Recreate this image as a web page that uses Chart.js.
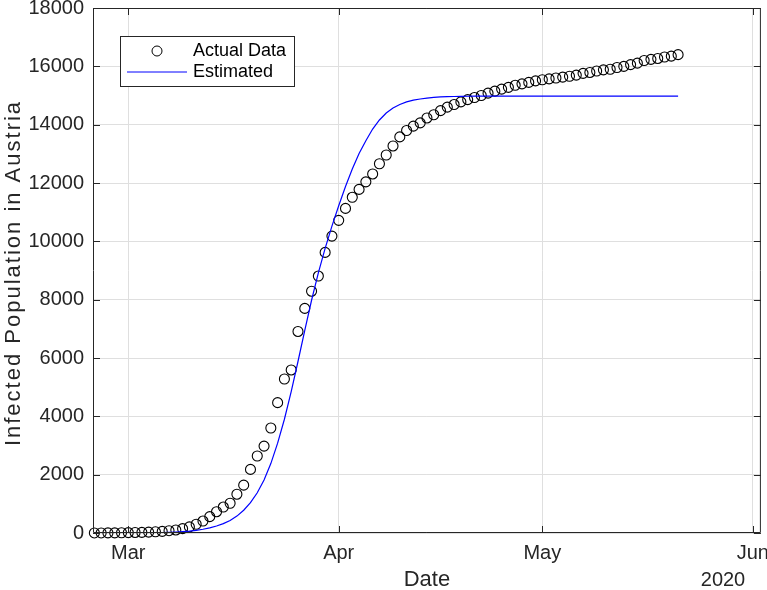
<!DOCTYPE html>
<html>
<head>
<meta charset="utf-8">
<script src="https://cdn.jsdelivr.net/npm/chart.js@4.4.1/dist/chart.umd.min.js"></script>
<style>
  html, body { margin: 0; padding: 0; background: #fff; }
  #wrap { width: 767px; height: 590px; }
</style>
</head>
<body>
<div id="wrap"><canvas id="chart" width="767" height="590"></canvas></div>
<script>
// days counted from 1 Mar 2020 (Feb 25 = -5 ... May 21 = 81)
const days = [-5, -4, -3, -2, -1, 0, 1, 2, 3, 4, 5, 6, 7, 8, 9, 10, 11, 12, 13, 14,
  15, 16, 17, 18, 19, 20, 21, 22, 23, 24, 25, 26, 27, 28, 29, 30, 31, 32, 33, 34,
  35, 36, 37, 38, 39, 40, 41, 42, 43, 44, 45, 46, 47, 48, 49, 50, 51, 52, 53, 54,
  55, 56, 57, 58, 59, 60, 61, 62, 63, 64, 65, 66, 67, 68, 69, 70, 71, 72, 73, 74,
  75, 76, 77, 78, 79, 80, 81];

const actual = [2, 2, 3, 3, 9, 14, 18, 21, 29, 41, 55, 79, 104, 150, 210, 300, 410, 560, 730, 890,
  1020, 1330, 1640, 2180, 2640, 2980, 3600, 4470, 5280, 5590, 6910, 7700, 8290, 8810, 9620, 10180, 10720, 11130, 11510, 11780,
  12040, 12310, 12660, 12960, 13270, 13580, 13800, 13950, 14060, 14230, 14340, 14480, 14600, 14690, 14780, 14860, 14930, 15000, 15080, 15150,
  15220, 15280, 15350, 15400, 15450, 15500, 15540, 15570, 15600, 15630, 15660, 15700, 15760, 15790, 15840, 15880, 15900, 15960, 16000, 16060,
  16110, 16200, 16240, 16270, 16320, 16350, 16400];

const estimated = [0, 0, 1, 1, 2, 3, 4, 6, 8, 11, 16, 23, 33, 47, 66, 92, 128, 175, 240, 320,
  430, 580, 780, 1040, 1380, 1820, 2380, 3080, 3900, 4850, 5880, 6950, 7980, 8920, 9760, 10520, 11220, 11880, 12480, 13010,
  13450, 13850, 14160, 14400, 14570, 14690, 14780, 14840, 14880, 14910, 14935, 14950, 14960, 14966, 14970, 14974, 14976, 14977, 14978, 14978,
  14979, 14979, 14979, 14980, 14980, 14980, 14980, 14980, 14980, 14980, 14980, 14980, 14980, 14980, 14980, 14980, 14980, 14980, 14980, 14980,
  14980, 14980, 14980, 14980, 14980, 14980, 14980];

const tickDays = [0, 31, 61, 92];
const tickLabels = ['Mar', 'Apr', 'May', 'Jun'];
const yearLabel = '2020';
const seriesNames = ['Actual Data', 'Estimated'];

const FONT = '"Liberation Sans", Arial, Helvetica, sans-serif';
const INK = '#262626';

// matlab style box, inward ticks, labels and legend
const matlabAxes = {
  id: 'matlabAxes',
  afterDraw(chart) {
    const { ctx, chartArea: a, scales } = chart;
    const tl = 7;
    ctx.save();
    ctx.strokeStyle = INK;
    ctx.lineWidth = 1;
    ctx.beginPath();
    ctx.rect(a.left + 0.5, a.top + 0.5, a.right - a.left - 1, a.bottom - a.top - 1);
    scales.x.ticks.forEach(t => {
      const px = Math.round(scales.x.getPixelForValue(t.value)) + 0.5;
      ctx.moveTo(px, a.bottom); ctx.lineTo(px, a.bottom - tl);
      ctx.moveTo(px, a.top); ctx.lineTo(px, a.top + tl);
    });
    scales.y.ticks.forEach(t => {
      const py = Math.round(scales.y.getPixelForValue(t.value)) + 0.5;
      ctx.moveTo(a.left, py); ctx.lineTo(a.left + tl, py);
      ctx.moveTo(a.right, py); ctx.lineTo(a.right - tl, py);
    });
    ctx.stroke();

    // axis titles
    ctx.fillStyle = INK;
    ctx.font = '22px ' + FONT;
    ctx.textAlign = 'center';
    ctx.textBaseline = 'middle';
    ctx.fillText('Date', (a.left + a.right) / 2, 580);
    ctx.font = '20px ' + FONT;
    ctx.fillText(yearLabel, 723, 580);
    ctx.save();
    ctx.translate(14, 273);
    ctx.rotate(-Math.PI / 2);
    ctx.font = '22px ' + FONT;
    ctx.letterSpacing = '2px';
    ctx.fillText('Infected Population in Austria', 0, 0);
    ctx.restore();

    // legend
    ctx.fillStyle = '#fff';
    ctx.fillRect(121, 36, 174, 50);
    ctx.strokeStyle = INK;
    ctx.strokeRect(120.5, 36.5, 174, 50);
    ctx.beginPath();
    ctx.arc(157, 51, 5, 0, Math.PI * 2);
    ctx.strokeStyle = '#000';
    ctx.stroke();
    ctx.beginPath();
    ctx.moveTo(127, 72); ctx.lineTo(187, 72);
    ctx.strokeStyle = '#0000ff';
    ctx.stroke();
    ctx.fillStyle = '#000';
    ctx.font = '18px ' + FONT;
    ctx.textAlign = 'left';
    ctx.fillText(seriesNames[0], 193, 51);
    ctx.fillText(seriesNames[1], 193, 72);
    ctx.restore();
  }
};

new Chart(document.getElementById('chart'), {
  type: 'scatter',
  data: {
    datasets: [
      {
        label: seriesNames[0],
        data: days.map((d, i) => ({ x: d, y: actual[i] })),
        pointStyle: 'circle',
        pointRadius: 5,
        pointBorderWidth: 1.1,
        pointBorderColor: '#000',
        pointBackgroundColor: 'rgba(0,0,0,0)',
        showLine: false,
        clip: false,
        order: 2
      },
      {
        label: seriesNames[1],
        data: days.map((d, i) => ({ x: d, y: estimated[i] })),
        showLine: true,
        borderColor: '#0000ff',
        borderWidth: 1.2,
        pointRadius: 0,
        fill: false,
        tension: 0,
        order: 1
      }
    ]
  },
  options: {
    responsive: false,
    animation: false,
    layout: { padding: { top: 8, right: 4, left: 0, bottom: 0 } },
    plugins: { legend: { display: false }, tooltip: { enabled: false } },
    scales: {
      x: {
        type: 'linear',
        min: -5.2,
        max: 93.2,
        afterBuildTicks: scale => { scale.ticks = tickDays.map(v => ({ value: v })); },
        afterFit: scale => {
          scale.height = 57;
          scale.paddingLeft = 0;
          scale.paddingRight = 0;
        },
        ticks: {
          autoSkip: false,
          maxRotation: 0,
          padding: 8,
          color: INK,
          font: { family: FONT, size: 20 },
          callback: (v) => tickLabels[tickDays.indexOf(v)]
        },
        grid: { color: '#dfdfdf', drawTicks: false },
        border: { display: false }
      },
      y: {
        min: 0,
        max: 18000,
        afterFit: scale => {
          scale.width = 93;
          scale.paddingTop = 0;
          scale.paddingBottom = 0;
        },
        ticks: {
          stepSize: 2000,
          padding: 9,
          color: INK,
          font: { family: FONT, size: 20 },
          callback: v => String(v)
        },
        grid: { color: '#dfdfdf', drawTicks: false },
        border: { display: false }
      }
    }
  },
  plugins: [matlabAxes]
});
</script>
</body>
</html>
